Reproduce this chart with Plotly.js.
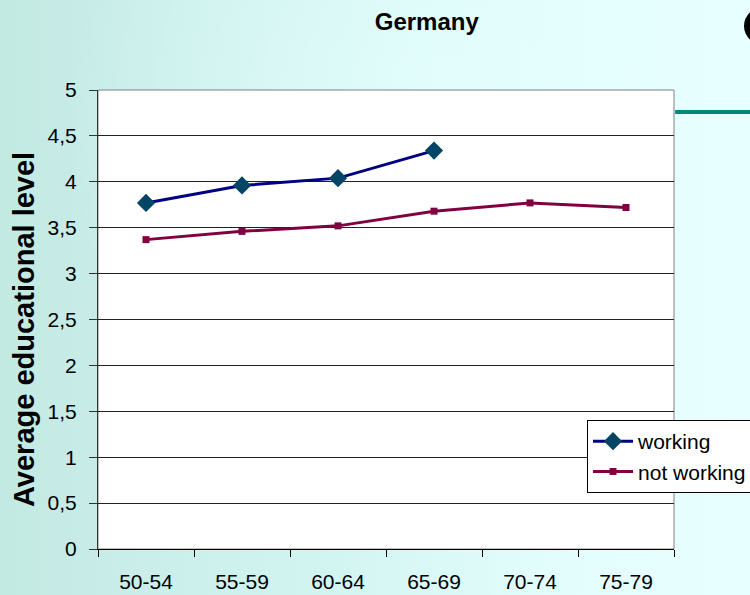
<!DOCTYPE html>
<html>
<head>
<meta charset="utf-8">
<script src="https://cdn.plot.ly/plotly-3.0.1.min.js"></script>
<style>
  html, body { margin:0; padding:0; }
  body {
    width:750px; height:595px; overflow:hidden;
    background:
      radial-gradient(ellipse at 60% 20%, rgba(230,255,255,0.7) 0%, rgba(230,255,255,0) 60%),
      linear-gradient(to right, #c3e9e3 0%, #d3f5f2 45%, #e3fdfd 75%, #e8ffff 100%);
  }
  #chart { width:750px; height:595px; }
</style>
</head>
<body>
<div id="chart"></div>
<script>
const categories = ["50-54", "55-59", "60-64", "65-69", "70-74", "75-79"];
const workingCats = ["50-54", "55-59", "60-64", "65-69"];
const workingVals = [3.77, 3.96, 4.04, 4.34];
const notWorkingVals = [3.37, 3.46, 3.52, 3.68, 3.77, 3.72];
const yTicks = [0, 0.5, 1, 1.5, 2, 2.5, 3, 3.5, 4, 4.5, 5];

const font = "Liberation Sans, Arial, sans-serif";

const traces = [
  {
    type: "scatter", mode: "lines+markers", name: "working",
    x: workingCats, y: workingVals,
    line: { color: "#000080", width: 3 },
    marker: { symbol: "diamond", size: 14, color: "#004466" }
  },
  {
    type: "scatter", mode: "lines+markers", name: "not working",
    x: categories, y: notWorkingVals,
    line: { color: "#800040", width: 3 },
    marker: { symbol: "square", size: 7, color: "#800040" }
  }
];

const layout = {
  width: 750, height: 595,
  paper_bgcolor: "rgba(0,0,0,0)",
  plot_bgcolor: "#ffffff",
  separators: ",.",
  margin: { l: 98, r: 76, t: 90, b: 46, autoexpand: false },
  font: { family: font, color: "#000000", size: 20 },
  title: {
    text: "<b>Germany</b>",
    font: { family: font, size: 24, color: "#000000" },
    xref: "container", x: 0.569, xanchor: "center",
    yref: "container", y: 0.963, yanchor: "middle"
  },
  showlegend: true,
  legend: {
    x: 0.849, xanchor: "left", y: 0.281, yanchor: "top",
    bgcolor: "#ffffff", bordercolor: "#000000", borderwidth: 1,
    font: { family: font, size: 21, color: "#000000" },
    itemwidth: 40,
    tracegroupgap: 0
  },
  xaxis: {
    type: "category",
    categoryorder: "array", categoryarray: categories,
    range: [-0.5, 5.5],
    tickson: "boundaries",
    ticks: "outside", ticklen: 7, tickcolor: "#000000", tickwidth: 1,
    showline: true, linecolor: "#000000", linewidth: 1,
    showgrid: false, zeroline: false,
    tickfont: { family: font, size: 21, color: "#000000" },
    ticklabelstandoff: 14,
    fixedrange: true
  },
  yaxis: {
    range: [0, 5],
    tickmode: "array", tickvals: yTicks,
    ticks: "outside", ticklen: 8, tickcolor: "#333333", tickwidth: 1,
    showline: true, linecolor: "#333333", linewidth: 1,
    showgrid: true, gridcolor: "#222222", gridwidth: 1,
    zeroline: false,
    tickfont: { family: font, size: 21, color: "#000000" },
    ticklabelstandoff: 8,
    fixedrange: true
  },
  annotations: [
    { text: "<b>Average educational level</b>", textangle: -90,
      xref: "paper", yref: "paper",
      x: (24 - 98) / 576, y: (549 - 330) / 459,
      xanchor: "center", yanchor: "middle", showarrow: false,
      font: { family: font, size: 29, color: "#000000" } }
  ],
  shapes: [
    { type: "rect", xref: "paper", yref: "paper", x0: 0, x1: 1, y0: 0, y1: 1,
      line: { color: "#808080", width: 1 }, layer: "below" },
    { type: "line", xref: "paper", yref: "paper", x0: 1.002, x1: 1.15, y0: 0.952, y1: 0.952,
      line: { color: "#00897b", width: 4 } },
    { type: "circle", xref: "paper", yref: "paper",
      x0: (747 - 98) / 576, x1: (817 - 98) / 576,
      y0: (549 - 48) / 459, y1: (549 - 4) / 459,
      line: { color: "#000000", width: 6 } }
  ]
};

Plotly.newPlot("chart", traces, layout, { displayModeBar: false, staticPlot: true });
</script>
</body>
</html>
